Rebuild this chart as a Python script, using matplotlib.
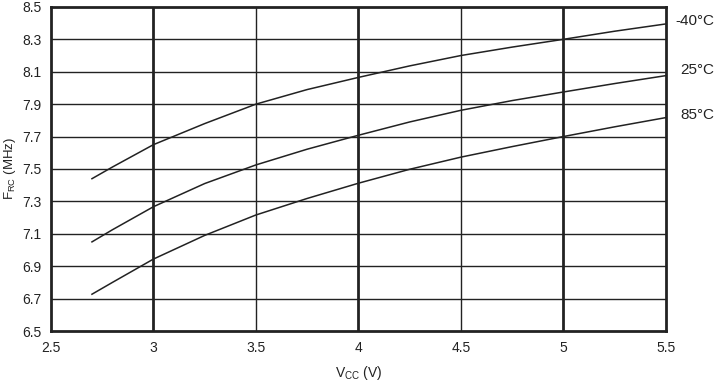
import matplotlib.pyplot as plt

plt.rcParams['font.family'] = ['Liberation Sans', 'DejaVu Sans']

vcc = [2.7, 2.8, 3.0, 3.25, 3.5, 3.75, 4.0, 4.25, 4.5, 4.75, 5.0, 5.25, 5.5]
f_m40 = [7.44, 7.512, 7.65, 7.78, 7.90, 7.99, 8.065, 8.136, 8.20, 8.252, 8.30, 8.35, 8.395]
f_25 = [7.05, 7.125, 7.267, 7.41, 7.525, 7.622, 7.708, 7.79, 7.862, 7.922, 7.975, 8.027, 8.076]
f_85 = [6.727, 6.80, 6.944, 7.09, 7.216, 7.318, 7.412, 7.498, 7.573, 7.638, 7.70, 7.76, 7.817]
curve_labels = ['-40°C', '25°C', '85°C']
label_y = [8.41, 8.11, 7.83]

xticks = [2.5, 3, 3.5, 4, 4.5, 5, 5.5]
yticks = [6.5, 6.7, 6.9, 7.1, 7.3, 7.5, 7.7, 7.9, 8.1, 8.3, 8.5]

fig = plt.figure(figsize=(7.26, 3.84), dpi=100)
ax = fig.add_axes([0.0702, 0.138, 0.847, 0.844])

# grid: thin horizontals, thin half-volt verticals, thick whole-volt verticals
for y in yticks[1:-1]:
    ax.axhline(y, color='#222222', lw=1.0, zorder=1)
for x in [3.5, 4.5]:
    ax.axvline(x, color='#222222', lw=1.0, zorder=1)
for x in [3, 4, 5]:
    ax.axvline(x, color='#222222', lw=2.0, zorder=1)

for f in [f_m40, f_25, f_85]:
    ax.plot(vcc, f, color='#222222', lw=1.1, zorder=2)

for lab, y in zip(curve_labels, label_y):
    ax.text(5.735, y, lab, ha='right', va='center', fontsize=11, color='#222222', clip_on=False)

ax.set_xlim(2.5, 5.5)
ax.set_ylim(6.5, 8.5)
ax.set_xticks(xticks)
ax.set_xticklabels(['2.5', '3', '3.5', '4', '4.5', '5', '5.5'])
ax.set_yticks(yticks)
ax.set_yticklabels([f'{v:.1f}' for v in yticks])
ax.tick_params(length=0, labelsize=10, colors='#222222', pad=7)
for s in ax.spines.values():
    s.set_linewidth(2.0)
    s.set_color('#222222')

ax.set_xlabel(r'V$_{\mathregular{CC}}$ (V)', fontsize=10, color='#222222', labelpad=7)
ax.set_ylabel(r'F$_{\mathregular{RC}}$ (MHz)', fontsize=9.5, color='#222222')
ax.yaxis.set_label_coords(-0.054, 0.5)

plt.savefig('out.png', dpi=100)
